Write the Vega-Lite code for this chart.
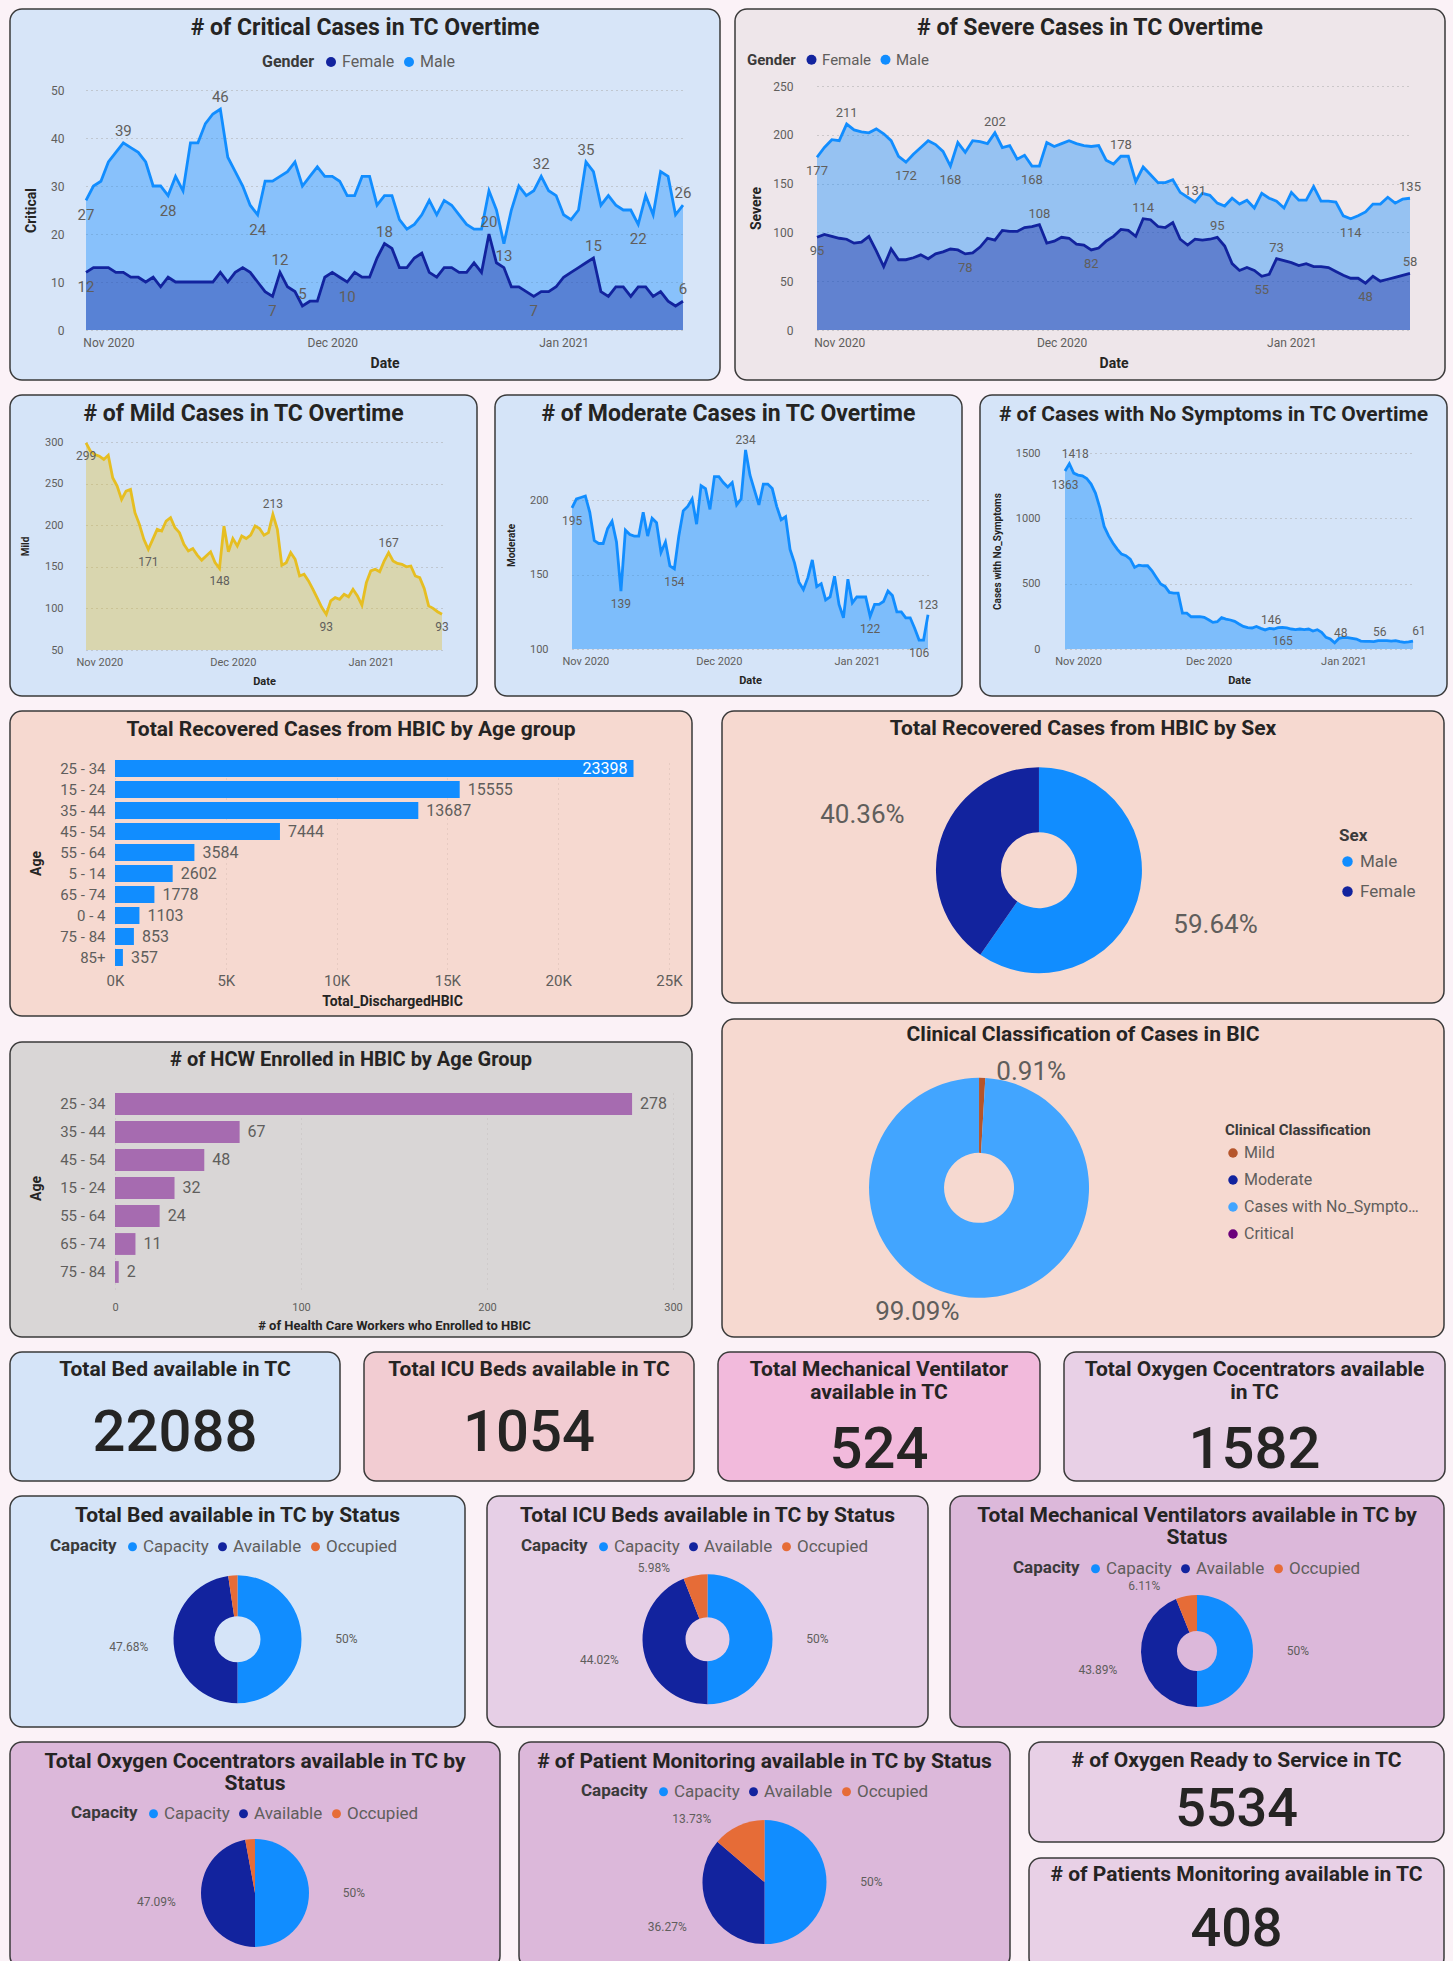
{
"$schema": "https://vega.github.io/schema/vega-lite/v6.json",
"background": "#FBF2F7",
"padding": {"left": 9, "top": 8, "right": 5, "bottom": 0},
"spacing": 13,
"resolve": {"scale": {"color": "independent", "theta": "independent"}, "legend": {"color": "independent"}},
"config": {
  "font": "Roboto",
  "view": {"stroke": null},
  "axis": {"domain": false, "ticks": false, "labelColor": "#605E5C", "titleColor": "#252423", "titleFontWeight": "bold", "gridColor": "#A9A9A9", "gridDash": [1, 4], "labelFlush": false, "labelOverlap": false},
  "legend": {"symbolType": "circle", "labelColor": "#605E5C", "titleColor": "#3A3A3A", "titleFontWeight": "bold", "symbolStrokeWidth": 0, "symbolOpacity": 1},
  "title": {"font": "Roboto", "fontWeight": "bold", "color": "#252423", "anchor": "middle", "frame": "group", "baseline": "top"}
},
"datasets": {
"critical": [
{"d":"2020-10-29","g":"Male","v":27,"lab":1},{"d":"2020-10-30","g":"Male","v":30},{"d":"2020-10-31","g":"Male","v":31},{"d":"2020-11-01","g":"Male","v":35},{"d":"2020-11-02","g":"Male","v":37},{"d":"2020-11-03","g":"Male","v":39,"lab":1},{"d":"2020-11-04","g":"Male","v":38},{"d":"2020-11-05","g":"Male","v":37},{"d":"2020-11-06","g":"Male","v":35},{"d":"2020-11-07","g":"Male","v":30},
{"d":"2020-11-08","g":"Male","v":30},{"d":"2020-11-09","g":"Male","v":28,"lab":1},{"d":"2020-11-10","g":"Male","v":32},{"d":"2020-11-11","g":"Male","v":29},{"d":"2020-11-12","g":"Male","v":39},{"d":"2020-11-13","g":"Male","v":39},{"d":"2020-11-14","g":"Male","v":43},{"d":"2020-11-15","g":"Male","v":45},{"d":"2020-11-16","g":"Male","v":46,"lab":1},{"d":"2020-11-17","g":"Male","v":36},
{"d":"2020-11-18","g":"Male","v":33},{"d":"2020-11-19","g":"Male","v":30},{"d":"2020-11-20","g":"Male","v":26},{"d":"2020-11-21","g":"Male","v":24,"lab":1},{"d":"2020-11-22","g":"Male","v":31},{"d":"2020-11-23","g":"Male","v":31},{"d":"2020-11-24","g":"Male","v":32},{"d":"2020-11-25","g":"Male","v":33},{"d":"2020-11-26","g":"Male","v":35},{"d":"2020-11-27","g":"Male","v":30},
{"d":"2020-11-28","g":"Male","v":32},{"d":"2020-11-29","g":"Male","v":34},{"d":"2020-11-30","g":"Male","v":32},{"d":"2020-12-01","g":"Male","v":32},{"d":"2020-12-02","g":"Male","v":31},{"d":"2020-12-03","g":"Male","v":28},{"d":"2020-12-04","g":"Male","v":28},{"d":"2020-12-05","g":"Male","v":32},{"d":"2020-12-06","g":"Male","v":32},{"d":"2020-12-07","g":"Male","v":26},
{"d":"2020-12-08","g":"Male","v":28},{"d":"2020-12-09","g":"Male","v":28},{"d":"2020-12-10","g":"Male","v":23},{"d":"2020-12-11","g":"Male","v":21},{"d":"2020-12-12","g":"Male","v":22},{"d":"2020-12-13","g":"Male","v":24},{"d":"2020-12-14","g":"Male","v":27},{"d":"2020-12-15","g":"Male","v":24},{"d":"2020-12-16","g":"Male","v":27},{"d":"2020-12-17","g":"Male","v":26},
{"d":"2020-12-18","g":"Male","v":24},{"d":"2020-12-19","g":"Male","v":22},{"d":"2020-12-20","g":"Male","v":21},{"d":"2020-12-21","g":"Male","v":21},{"d":"2020-12-22","g":"Male","v":29},{"d":"2020-12-23","g":"Male","v":25},{"d":"2020-12-24","g":"Male","v":18},{"d":"2020-12-25","g":"Male","v":25},{"d":"2020-12-26","g":"Male","v":30},{"d":"2020-12-27","g":"Male","v":28},
{"d":"2020-12-28","g":"Male","v":29},{"d":"2020-12-29","g":"Male","v":32,"lab":1},{"d":"2020-12-30","g":"Male","v":29},{"d":"2020-12-31","g":"Male","v":28},{"d":"2021-01-01","g":"Male","v":24},{"d":"2021-01-02","g":"Male","v":23},{"d":"2021-01-03","g":"Male","v":25},{"d":"2021-01-04","g":"Male","v":35,"lab":1},{"d":"2021-01-05","g":"Male","v":33},{"d":"2021-01-06","g":"Male","v":26},
{"d":"2021-01-07","g":"Male","v":28},{"d":"2021-01-08","g":"Male","v":26},{"d":"2021-01-09","g":"Male","v":25},{"d":"2021-01-10","g":"Male","v":25},{"d":"2021-01-11","g":"Male","v":22,"lab":1},{"d":"2021-01-12","g":"Male","v":28},{"d":"2021-01-13","g":"Male","v":24},{"d":"2021-01-14","g":"Male","v":33},{"d":"2021-01-15","g":"Male","v":32},{"d":"2021-01-16","g":"Male","v":24},
{"d":"2021-01-17","g":"Male","v":26,"lab":1},
{"d":"2020-10-29","g":"Female","v":12,"lab":1},{"d":"2020-10-30","g":"Female","v":13},{"d":"2020-10-31","g":"Female","v":13},{"d":"2020-11-01","g":"Female","v":13},{"d":"2020-11-02","g":"Female","v":12},{"d":"2020-11-03","g":"Female","v":12},{"d":"2020-11-04","g":"Female","v":11},{"d":"2020-11-05","g":"Female","v":11},{"d":"2020-11-06","g":"Female","v":10},{"d":"2020-11-07","g":"Female","v":11},
{"d":"2020-11-08","g":"Female","v":9},{"d":"2020-11-09","g":"Female","v":11},{"d":"2020-11-10","g":"Female","v":10},{"d":"2020-11-11","g":"Female","v":10},{"d":"2020-11-12","g":"Female","v":10},{"d":"2020-11-13","g":"Female","v":10},{"d":"2020-11-14","g":"Female","v":10},{"d":"2020-11-15","g":"Female","v":10},{"d":"2020-11-16","g":"Female","v":12},{"d":"2020-11-17","g":"Female","v":10},
{"d":"2020-11-18","g":"Female","v":12},{"d":"2020-11-19","g":"Female","v":13},{"d":"2020-11-20","g":"Female","v":12},{"d":"2020-11-21","g":"Female","v":10},{"d":"2020-11-22","g":"Female","v":8},{"d":"2020-11-23","g":"Female","v":7,"lab":1},{"d":"2020-11-24","g":"Female","v":12,"lab":1},{"d":"2020-11-25","g":"Female","v":9},{"d":"2020-11-26","g":"Female","v":8},{"d":"2020-11-27","g":"Female","v":5,"lab":1},
{"d":"2020-11-28","g":"Female","v":6},{"d":"2020-11-29","g":"Female","v":6},{"d":"2020-11-30","g":"Female","v":11},{"d":"2020-12-01","g":"Female","v":12},{"d":"2020-12-02","g":"Female","v":11},{"d":"2020-12-03","g":"Female","v":10,"lab":1},{"d":"2020-12-04","g":"Female","v":12},{"d":"2020-12-05","g":"Female","v":11},{"d":"2020-12-06","g":"Female","v":11},{"d":"2020-12-07","g":"Female","v":15},
{"d":"2020-12-08","g":"Female","v":18,"lab":1},{"d":"2020-12-09","g":"Female","v":17},{"d":"2020-12-10","g":"Female","v":13},{"d":"2020-12-11","g":"Female","v":13},{"d":"2020-12-12","g":"Female","v":15},{"d":"2020-12-13","g":"Female","v":16},{"d":"2020-12-14","g":"Female","v":12},{"d":"2020-12-15","g":"Female","v":11},{"d":"2020-12-16","g":"Female","v":13},{"d":"2020-12-17","g":"Female","v":13},
{"d":"2020-12-18","g":"Female","v":12},{"d":"2020-12-19","g":"Female","v":12},{"d":"2020-12-20","g":"Female","v":14},{"d":"2020-12-21","g":"Female","v":12},{"d":"2020-12-22","g":"Female","v":20,"lab":1},{"d":"2020-12-23","g":"Female","v":14},{"d":"2020-12-24","g":"Female","v":13,"lab":1},{"d":"2020-12-25","g":"Female","v":9},{"d":"2020-12-26","g":"Female","v":9},{"d":"2020-12-27","g":"Female","v":8},
{"d":"2020-12-28","g":"Female","v":7,"lab":1},{"d":"2020-12-29","g":"Female","v":8},{"d":"2020-12-30","g":"Female","v":8},{"d":"2020-12-31","g":"Female","v":9},{"d":"2021-01-01","g":"Female","v":11},{"d":"2021-01-02","g":"Female","v":12},{"d":"2021-01-03","g":"Female","v":13},{"d":"2021-01-04","g":"Female","v":14},{"d":"2021-01-05","g":"Female","v":15,"lab":1},{"d":"2021-01-06","g":"Female","v":8},
{"d":"2021-01-07","g":"Female","v":7},{"d":"2021-01-08","g":"Female","v":9},{"d":"2021-01-09","g":"Female","v":9},{"d":"2021-01-10","g":"Female","v":7},{"d":"2021-01-11","g":"Female","v":9},{"d":"2021-01-12","g":"Female","v":9},{"d":"2021-01-13","g":"Female","v":7},{"d":"2021-01-14","g":"Female","v":8},{"d":"2021-01-15","g":"Female","v":6},{"d":"2021-01-16","g":"Female","v":5},
{"d":"2021-01-17","g":"Female","v":6,"lab":1}
],
"severe": [
{"d":"2020-10-29","g":"Male","v":177,"lab":1},{"d":"2020-10-30","g":"Male","v":187},{"d":"2020-10-31","g":"Male","v":195},{"d":"2020-11-01","g":"Male","v":194},{"d":"2020-11-02","g":"Male","v":211,"lab":1},{"d":"2020-11-03","g":"Male","v":205},{"d":"2020-11-04","g":"Male","v":203},{"d":"2020-11-05","g":"Male","v":202},{"d":"2020-11-06","g":"Male","v":206},{"d":"2020-11-07","g":"Male","v":201},
{"d":"2020-11-08","g":"Male","v":194},{"d":"2020-11-09","g":"Male","v":178},{"d":"2020-11-10","g":"Male","v":172,"lab":1},{"d":"2020-11-11","g":"Male","v":180},{"d":"2020-11-12","g":"Male","v":187},{"d":"2020-11-13","g":"Male","v":194},{"d":"2020-11-14","g":"Male","v":190},{"d":"2020-11-15","g":"Male","v":183},{"d":"2020-11-16","g":"Male","v":168,"lab":1},{"d":"2020-11-17","g":"Male","v":192},
{"d":"2020-11-18","g":"Male","v":182},{"d":"2020-11-19","g":"Male","v":194},{"d":"2020-11-20","g":"Male","v":193},{"d":"2020-11-21","g":"Male","v":191},{"d":"2020-11-22","g":"Male","v":202,"lab":1},{"d":"2020-11-23","g":"Male","v":187},{"d":"2020-11-24","g":"Male","v":189},{"d":"2020-11-25","g":"Male","v":175},{"d":"2020-11-26","g":"Male","v":179},{"d":"2020-11-27","g":"Male","v":168,"lab":1},
{"d":"2020-11-28","g":"Male","v":168},{"d":"2020-11-29","g":"Male","v":192},{"d":"2020-11-30","g":"Male","v":188},{"d":"2020-12-01","g":"Male","v":191},{"d":"2020-12-02","g":"Male","v":194},{"d":"2020-12-03","g":"Male","v":191},{"d":"2020-12-04","g":"Male","v":189},{"d":"2020-12-05","g":"Male","v":188},{"d":"2020-12-06","g":"Male","v":189},{"d":"2020-12-07","g":"Male","v":174},
{"d":"2020-12-08","g":"Male","v":170},{"d":"2020-12-09","g":"Male","v":178,"lab":1},{"d":"2020-12-10","g":"Male","v":178},{"d":"2020-12-11","g":"Male","v":152},{"d":"2020-12-12","g":"Male","v":167},{"d":"2020-12-13","g":"Male","v":159},{"d":"2020-12-14","g":"Male","v":151},{"d":"2020-12-15","g":"Male","v":151},{"d":"2020-12-16","g":"Male","v":154},{"d":"2020-12-17","g":"Male","v":141},
{"d":"2020-12-18","g":"Male","v":136},{"d":"2020-12-19","g":"Male","v":131,"lab":1},{"d":"2020-12-20","g":"Male","v":140},{"d":"2020-12-21","g":"Male","v":138},{"d":"2020-12-22","g":"Male","v":130},{"d":"2020-12-23","g":"Male","v":127},{"d":"2020-12-24","g":"Male","v":135},{"d":"2020-12-25","g":"Male","v":129},{"d":"2020-12-26","g":"Male","v":133},{"d":"2020-12-27","g":"Male","v":125},
{"d":"2020-12-28","g":"Male","v":140},{"d":"2020-12-29","g":"Male","v":135},{"d":"2020-12-30","g":"Male","v":132},{"d":"2020-12-31","g":"Male","v":125},{"d":"2021-01-01","g":"Male","v":141},{"d":"2021-01-02","g":"Male","v":133},{"d":"2021-01-03","g":"Male","v":133},{"d":"2021-01-04","g":"Male","v":147},{"d":"2021-01-05","g":"Male","v":132},{"d":"2021-01-06","g":"Male","v":132},
{"d":"2021-01-07","g":"Male","v":131},{"d":"2021-01-08","g":"Male","v":117},{"d":"2021-01-09","g":"Male","v":114,"lab":1},{"d":"2021-01-10","g":"Male","v":117},{"d":"2021-01-11","g":"Male","v":121},{"d":"2021-01-12","g":"Male","v":129},{"d":"2021-01-13","g":"Male","v":129},{"d":"2021-01-14","g":"Male","v":136},{"d":"2021-01-15","g":"Male","v":130},{"d":"2021-01-16","g":"Male","v":134},
{"d":"2021-01-17","g":"Male","v":135,"lab":1},
{"d":"2020-10-29","g":"Female","v":95,"lab":1},{"d":"2020-10-30","g":"Female","v":98},{"d":"2020-10-31","g":"Female","v":96},{"d":"2020-11-01","g":"Female","v":94},{"d":"2020-11-02","g":"Female","v":93},{"d":"2020-11-03","g":"Female","v":89},{"d":"2020-11-04","g":"Female","v":90},{"d":"2020-11-05","g":"Female","v":96},{"d":"2020-11-06","g":"Female","v":81},{"d":"2020-11-07","g":"Female","v":65},
{"d":"2020-11-08","g":"Female","v":83},{"d":"2020-11-09","g":"Female","v":72},{"d":"2020-11-10","g":"Female","v":72},{"d":"2020-11-11","g":"Female","v":74},{"d":"2020-11-12","g":"Female","v":77},{"d":"2020-11-13","g":"Female","v":73},{"d":"2020-11-14","g":"Female","v":78},{"d":"2020-11-15","g":"Female","v":80},{"d":"2020-11-16","g":"Female","v":83},{"d":"2020-11-17","g":"Female","v":82},
{"d":"2020-11-18","g":"Female","v":78,"lab":1},{"d":"2020-11-19","g":"Female","v":79},{"d":"2020-11-20","g":"Female","v":85},{"d":"2020-11-21","g":"Female","v":94},{"d":"2020-11-22","g":"Female","v":92},{"d":"2020-11-23","g":"Female","v":102},{"d":"2020-11-24","g":"Female","v":101},{"d":"2020-11-25","g":"Female","v":101},{"d":"2020-11-26","g":"Female","v":105},{"d":"2020-11-27","g":"Female","v":106},
{"d":"2020-11-28","g":"Female","v":108,"lab":1},{"d":"2020-11-29","g":"Female","v":89},{"d":"2020-11-30","g":"Female","v":91},{"d":"2020-12-01","g":"Female","v":95},{"d":"2020-12-02","g":"Female","v":94},{"d":"2020-12-03","g":"Female","v":88},{"d":"2020-12-04","g":"Female","v":87},{"d":"2020-12-05","g":"Female","v":82,"lab":1},{"d":"2020-12-06","g":"Female","v":84},{"d":"2020-12-07","g":"Female","v":91},
{"d":"2020-12-08","g":"Female","v":96},{"d":"2020-12-09","g":"Female","v":103},{"d":"2020-12-10","g":"Female","v":102},{"d":"2020-12-11","g":"Female","v":96},{"d":"2020-12-12","g":"Female","v":114,"lab":1},{"d":"2020-12-13","g":"Female","v":113},{"d":"2020-12-14","g":"Female","v":106},{"d":"2020-12-15","g":"Female","v":105},{"d":"2020-12-16","g":"Female","v":110},{"d":"2020-12-17","g":"Female","v":93},
{"d":"2020-12-18","g":"Female","v":87},{"d":"2020-12-19","g":"Female","v":93},{"d":"2020-12-20","g":"Female","v":92},{"d":"2020-12-21","g":"Female","v":93},{"d":"2020-12-22","g":"Female","v":95,"lab":1},{"d":"2020-12-23","g":"Female","v":86},{"d":"2020-12-24","g":"Female","v":68},{"d":"2020-12-25","g":"Female","v":61},{"d":"2020-12-26","g":"Female","v":64},{"d":"2020-12-27","g":"Female","v":61},
{"d":"2020-12-28","g":"Female","v":55,"lab":1},{"d":"2020-12-29","g":"Female","v":57},{"d":"2020-12-30","g":"Female","v":73,"lab":1},{"d":"2020-12-31","g":"Female","v":71},{"d":"2021-01-01","g":"Female","v":69},{"d":"2021-01-02","g":"Female","v":66},{"d":"2021-01-03","g":"Female","v":68},{"d":"2021-01-04","g":"Female","v":65},{"d":"2021-01-05","g":"Female","v":65},{"d":"2021-01-06","g":"Female","v":64},
{"d":"2021-01-07","g":"Female","v":60},{"d":"2021-01-08","g":"Female","v":56},{"d":"2021-01-09","g":"Female","v":53},{"d":"2021-01-10","g":"Female","v":53},{"d":"2021-01-11","g":"Female","v":48,"lab":1},{"d":"2021-01-12","g":"Female","v":55},{"d":"2021-01-13","g":"Female","v":50},{"d":"2021-01-14","g":"Female","v":52},{"d":"2021-01-15","g":"Female","v":54},{"d":"2021-01-16","g":"Female","v":56},
{"d":"2021-01-17","g":"Female","v":58,"lab":1}
],
"mild": [
{"d":"2020-10-29","v":299,"lab":1},{"d":"2020-10-30","v":289},{"d":"2020-10-31","v":285},{"d":"2020-11-01","v":283},{"d":"2020-11-02","v":279},{"d":"2020-11-03","v":284},{"d":"2020-11-04","v":257},{"d":"2020-11-05","v":247},{"d":"2020-11-06","v":231},{"d":"2020-11-07","v":241},
{"d":"2020-11-08","v":243},{"d":"2020-11-09","v":215},{"d":"2020-11-10","v":201},{"d":"2020-11-11","v":183},{"d":"2020-11-12","v":171,"lab":1},{"d":"2020-11-13","v":183},{"d":"2020-11-14","v":195},{"d":"2020-11-15","v":193},{"d":"2020-11-16","v":205},{"d":"2020-11-17","v":209},
{"d":"2020-11-18","v":197},{"d":"2020-11-19","v":191},{"d":"2020-11-20","v":177},{"d":"2020-11-21","v":169},{"d":"2020-11-22","v":172},{"d":"2020-11-23","v":164},{"d":"2020-11-24","v":158},{"d":"2020-11-25","v":163},{"d":"2020-11-26","v":168},{"d":"2020-11-27","v":155},
{"d":"2020-11-28","v":148,"lab":1},{"d":"2020-11-29","v":199},{"d":"2020-11-30","v":168},{"d":"2020-12-01","v":184},{"d":"2020-12-02","v":175},{"d":"2020-12-03","v":187},{"d":"2020-12-04","v":184},{"d":"2020-12-05","v":188},{"d":"2020-12-06","v":199},{"d":"2020-12-07","v":196},
{"d":"2020-12-08","v":188},{"d":"2020-12-09","v":191},{"d":"2020-12-10","v":213,"lab":1},{"d":"2020-12-11","v":195},{"d":"2020-12-12","v":152},{"d":"2020-12-13","v":155},{"d":"2020-12-14","v":167},{"d":"2020-12-15","v":159},{"d":"2020-12-16","v":139},{"d":"2020-12-17","v":141},
{"d":"2020-12-18","v":133},{"d":"2020-12-19","v":123},{"d":"2020-12-20","v":112},{"d":"2020-12-21","v":101},{"d":"2020-12-22","v":93,"lab":1},{"d":"2020-12-23","v":109},{"d":"2020-12-24","v":113},{"d":"2020-12-25","v":111},{"d":"2020-12-26","v":117},{"d":"2020-12-27","v":114},
{"d":"2020-12-28","v":123},{"d":"2020-12-29","v":115},{"d":"2020-12-30","v":104},{"d":"2020-12-31","v":131},{"d":"2021-01-01","v":145},{"d":"2021-01-02","v":147},{"d":"2021-01-03","v":144},{"d":"2021-01-04","v":157},{"d":"2021-01-05","v":167,"lab":1},{"d":"2021-01-06","v":157},
{"d":"2021-01-07","v":154},{"d":"2021-01-08","v":153},{"d":"2021-01-09","v":150},{"d":"2021-01-10","v":151},{"d":"2021-01-11","v":139},{"d":"2021-01-12","v":137},{"d":"2021-01-13","v":124},{"d":"2021-01-14","v":103},{"d":"2021-01-15","v":100},{"d":"2021-01-16","v":96},
{"d":"2021-01-17","v":93,"lab":1}
],
"moderate": [
{"d":"2020-10-29","v":195,"lab":1},{"d":"2020-10-30","v":201},{"d":"2020-10-31","v":202},{"d":"2020-11-01","v":203},{"d":"2020-11-02","v":192},{"d":"2020-11-03","v":173},{"d":"2020-11-04","v":171},{"d":"2020-11-05","v":171},{"d":"2020-11-06","v":181},{"d":"2020-11-07","v":186},
{"d":"2020-11-08","v":172},{"d":"2020-11-09","v":139,"lab":1},{"d":"2020-11-10","v":180},{"d":"2020-11-11","v":177},{"d":"2020-11-12","v":176},{"d":"2020-11-13","v":176},{"d":"2020-11-14","v":192},{"d":"2020-11-15","v":176},{"d":"2020-11-16","v":188},{"d":"2020-11-17","v":185},
{"d":"2020-11-18","v":165},{"d":"2020-11-19","v":172},{"d":"2020-11-20","v":156},{"d":"2020-11-21","v":154,"lab":1},{"d":"2020-11-22","v":176},{"d":"2020-11-23","v":193},{"d":"2020-11-24","v":196},{"d":"2020-11-25","v":201},{"d":"2020-11-26","v":184},{"d":"2020-11-27","v":210},
{"d":"2020-11-28","v":208},{"d":"2020-11-29","v":194},{"d":"2020-11-30","v":216},{"d":"2020-12-01","v":216},{"d":"2020-12-02","v":212},{"d":"2020-12-03","v":209},{"d":"2020-12-04","v":212},{"d":"2020-12-05","v":197},{"d":"2020-12-06","v":201},{"d":"2020-12-07","v":234,"lab":1},
{"d":"2020-12-08","v":217},{"d":"2020-12-09","v":207},{"d":"2020-12-10","v":197},{"d":"2020-12-11","v":211},{"d":"2020-12-12","v":211},{"d":"2020-12-13","v":208},{"d":"2020-12-14","v":196},{"d":"2020-12-15","v":187},{"d":"2020-12-16","v":189},{"d":"2020-12-17","v":167},
{"d":"2020-12-18","v":158},{"d":"2020-12-19","v":145},{"d":"2020-12-20","v":140},{"d":"2020-12-21","v":148},{"d":"2020-12-22","v":160},{"d":"2020-12-23","v":142},{"d":"2020-12-24","v":144},{"d":"2020-12-25","v":133},{"d":"2020-12-26","v":135},{"d":"2020-12-27","v":149},
{"d":"2020-12-28","v":130},{"d":"2020-12-29","v":121},{"d":"2020-12-30","v":147},{"d":"2020-12-31","v":131},{"d":"2021-01-01","v":135},{"d":"2021-01-02","v":135},{"d":"2021-01-03","v":135},{"d":"2021-01-04","v":122,"lab":1},{"d":"2021-01-05","v":130},{"d":"2021-01-06","v":130},
{"d":"2021-01-07","v":132},{"d":"2021-01-08","v":139},{"d":"2021-01-09","v":136},{"d":"2021-01-10","v":125},{"d":"2021-01-11","v":125},{"d":"2021-01-12","v":121},{"d":"2021-01-13","v":121},{"d":"2021-01-14","v":114},{"d":"2021-01-15","v":106,"lab":1},{"d":"2021-01-16","v":106},
{"d":"2021-01-17","v":123,"lab":1}
],
"nosym": [
{"d":"2020-10-29","v":1363,"lab":1},{"d":"2020-10-30","v":1418,"lab":1},{"d":"2020-10-31","v":1346},{"d":"2020-11-01","v":1331},{"d":"2020-11-02","v":1325},{"d":"2020-11-03","v":1305},{"d":"2020-11-04","v":1262},{"d":"2020-11-05","v":1193},{"d":"2020-11-06","v":1083},{"d":"2020-11-07","v":938},
{"d":"2020-11-08","v":867},{"d":"2020-11-09","v":811},{"d":"2020-11-10","v":765},{"d":"2020-11-11","v":726},{"d":"2020-11-12","v":714},{"d":"2020-11-13","v":688},{"d":"2020-11-14","v":624},{"d":"2020-11-15","v":642},{"d":"2020-11-16","v":637},{"d":"2020-11-17","v":637},
{"d":"2020-11-18","v":599},{"d":"2020-11-19","v":548},{"d":"2020-11-20","v":497},{"d":"2020-11-21","v":479},{"d":"2020-11-22","v":433},{"d":"2020-11-23","v":428},{"d":"2020-11-24","v":428},{"d":"2020-11-25","v":275},{"d":"2020-11-26","v":275},{"d":"2020-11-27","v":247},
{"d":"2020-11-28","v":247},{"d":"2020-11-29","v":247},{"d":"2020-11-30","v":242},{"d":"2020-12-01","v":224},{"d":"2020-12-02","v":204},{"d":"2020-12-03","v":209},{"d":"2020-12-04","v":240},{"d":"2020-12-05","v":229},{"d":"2020-12-06","v":222},{"d":"2020-12-07","v":212},
{"d":"2020-12-08","v":191},{"d":"2020-12-09","v":173},{"d":"2020-12-10","v":163},{"d":"2020-12-11","v":161},{"d":"2020-12-12","v":173},{"d":"2020-12-13","v":158},{"d":"2020-12-14","v":146,"lab":1},{"d":"2020-12-15","v":158},{"d":"2020-12-16","v":153},{"d":"2020-12-17","v":163},
{"d":"2020-12-18","v":165,"lab":1},{"d":"2020-12-19","v":161},{"d":"2020-12-20","v":153},{"d":"2020-12-21","v":148},{"d":"2020-12-22","v":153},{"d":"2020-12-23","v":148},{"d":"2020-12-24","v":153},{"d":"2020-12-25","v":138},{"d":"2020-12-26","v":148},{"d":"2020-12-27","v":127},
{"d":"2020-12-28","v":89},{"d":"2020-12-29","v":76},{"d":"2020-12-30","v":48,"lab":1},{"d":"2020-12-31","v":82},{"d":"2021-01-01","v":89},{"d":"2021-01-02","v":87},{"d":"2021-01-03","v":82},{"d":"2021-01-04","v":76},{"d":"2021-01-05","v":61},{"d":"2021-01-06","v":59},
{"d":"2021-01-07","v":59},{"d":"2021-01-08","v":56,"lab":1},{"d":"2021-01-09","v":64},{"d":"2021-01-10","v":64},{"d":"2021-01-11","v":64},{"d":"2021-01-12","v":61},{"d":"2021-01-13","v":64},{"d":"2021-01-14","v":57},{"d":"2021-01-15","v":51},{"d":"2021-01-16","v":54},
{"d":"2021-01-17","v":61,"lab":1}
],
"age": [
{"a":"25 - 34","v":23398},{"a":"15 - 24","v":15555},{"a":"35 - 44","v":13687},{"a":"45 - 54","v":7444},{"a":"55 - 64","v":3584},
{"a":"5 - 14","v":2602},{"a":"65 - 74","v":1778},{"a":"0 - 4","v":1103},{"a":"75 - 84","v":853},{"a":"85+","v":357}
],
"hcw": [
{"a":"25 - 34","v":278},{"a":"35 - 44","v":67},{"a":"45 - 54","v":48},{"a":"15 - 24","v":32},{"a":"55 - 64","v":24},{"a":"65 - 74","v":11},{"a":"75 - 84","v":2}
],
"sex": [{"s":"Male","v":0.5964,"k":1},{"s":"Female","v":0.4036,"k":2}],
"clinical": [{"s":"Mild","v":0.0091,"k":1},{"s":"Moderate","v":0,"k":2},{"s":"Cases with No_Symptoms","v":0.9909,"k":3},{"s":"Critical","v":0,"k":4}],
"bed": [{"s":"Capacity","v":0.5,"k":1},{"s":"Available","v":0.4768,"k":2},{"s":"Occupied","v":0.0232,"k":3}],
"icu": [{"s":"Capacity","v":0.5,"k":1},{"s":"Available","v":0.4402,"k":2},{"s":"Occupied","v":0.0598,"k":3}],
"mech": [{"s":"Capacity","v":0.5,"k":1},{"s":"Available","v":0.4389,"k":2},{"s":"Occupied","v":0.0611,"k":3}],
"oxy": [{"s":"Capacity","v":0.5,"k":1},{"s":"Available","v":0.4709,"k":2},{"s":"Occupied","v":0.0291,"k":3}],
"pm": [{"s":"Capacity","v":0.5,"k":1},{"s":"Available","v":0.3627,"k":2},{"s":"Occupied","v":0.1373,"k":3}]
},
"vconcat": [
{"hconcat": [
  {"width": 710, "height": 371,
   "view": {"fill": "#D7E5F8", "stroke": "#3A3A3A", "strokeWidth": 1.5, "cornerRadius": 12},
   "title": {"text": "# of Critical Cases in TC Overtime", "fontSize": 23, "offset": -31},
   "data": {"name": "critical"},
   "encoding": {
     "x": {"field": "d", "type": "temporal", "scale": {"type": "utc", "nice": false, "range": [76, 673]},
           "axis": {"orient": "bottom", "offset": -50, "format": "%b %Y", "tickCount": {"interval": "month", "step": 1}, "labelFontSize": 12, "labelPadding": 7, "title": "Date", "titleFontSize": 14, "titlePadding": 8, "grid": false}},
     "y": {"field": "v", "type": "quantitative", "stack": null, "scale": {"domain": [0, 50], "nice": false, "range": [321, 81]},
           "axis": {"orient": "left", "offset": -60, "values": [0, 10, 20, 30, 40, 50], "labelFontSize": 12, "labelPadding": 6, "title": "Critical", "titleFontSize": 14, "titlePadding": 12, "grid": true}},
     "color": {"field": "g", "type": "nominal", "scale": {"domain": ["Female", "Male"], "range": ["#12239E", "#118DFF"]},
               "legend": {"title": "Gender", "orient": "none", "direction": "horizontal", "titleOrient": "left", "legendX": 252, "legendY": 45, "titleFontSize": 16, "labelFontSize": 16, "symbolSize": 100, "columnPadding": 6, "titlePadding": 8, "labelOffset": 3}}
   },
   "layer": [
     {"transform": [{"filter": "datum.g == 'Male'"}], "mark": {"type": "area", "opacity": 0.4}, "encoding": {"y2": {"datum": 0}}},
     {"transform": [{"filter": "datum.g == 'Female'"}], "mark": {"type": "area", "opacity": 0.4}, "encoding": {"y2": {"datum": 0}}},
     {"mark": {"type": "line", "strokeWidth": 2.8}},
     {"transform": [{"filter": "datum.lab == 1 && !((datum.g == 'Male' && indexof([27, 28, 24, 22], datum.v) >= 0) || (datum.g == 'Female' && (datum.v == 7 || datum.v == 10 || (datum.v == 12 && utcmonth(datum.d) == 9))))"}],
      "mark": {"type": "text", "dy": -12, "fontSize": 15}, "encoding": {"text": {"field": "v", "type": "quantitative", "format": "d"}, "color": {"value": "#605E5C"}}},
     {"transform": [{"filter": "datum.lab == 1 && ((datum.g == 'Male' && indexof([27, 28, 24, 22], datum.v) >= 0) || (datum.g == 'Female' && (datum.v == 7 || datum.v == 10 || (datum.v == 12 && utcmonth(datum.d) == 9))))"}],
      "mark": {"type": "text", "dy": 15, "fontSize": 15}, "encoding": {"text": {"field": "v", "type": "quantitative", "format": "d"}, "color": {"value": "#605E5C"}}}
   ]
  },
  {"width": 710, "height": 371,
   "view": {"fill": "#EEE6EA", "stroke": "#3A3A3A", "strokeWidth": 1.5, "cornerRadius": 12},
   "title": {"text": "# of Severe Cases in TC Overtime", "fontSize": 23, "offset": -31},
   "data": {"name": "severe"},
   "encoding": {
     "x": {"field": "d", "type": "temporal", "scale": {"type": "utc", "nice": false, "range": [82, 675]},
           "axis": {"orient": "bottom", "offset": -50, "format": "%b %Y", "tickCount": {"interval": "month", "step": 1}, "labelFontSize": 12, "labelPadding": 7, "title": "Date", "titleFontSize": 14, "titlePadding": 8, "grid": false}},
     "y": {"field": "v", "type": "quantitative", "stack": null, "scale": {"domain": [0, 250], "nice": false, "range": [321, 77]},
           "axis": {"orient": "left", "offset": -64, "values": [0, 50, 100, 150, 200, 250], "labelFontSize": 12, "labelPadding": 6, "title": "Severe", "titleFontSize": 14, "titlePadding": 9, "grid": true}},
     "color": {"field": "g", "type": "nominal", "scale": {"domain": ["Female", "Male"], "range": ["#12239E", "#118DFF"]},
               "legend": {"title": "Gender", "orient": "none", "direction": "horizontal", "titleOrient": "left", "legendX": 12, "legendY": 43, "titleFontSize": 15, "labelFontSize": 15, "symbolSize": 100, "columnPadding": 6, "titlePadding": 8, "labelOffset": 3}}
   },
   "layer": [
     {"transform": [{"filter": "datum.g == 'Male'"}], "mark": {"type": "area", "opacity": 0.4}, "encoding": {"y2": {"datum": 0}}},
     {"transform": [{"filter": "datum.g == 'Female'"}], "mark": {"type": "area", "opacity": 0.4}, "encoding": {"y2": {"datum": 0}}},
     {"mark": {"type": "line", "strokeWidth": 2.8}},
     {"transform": [{"filter": "datum.lab == 1 && !((datum.g == 'Male' && indexof([177, 172, 168, 114], datum.v) >= 0) || (datum.g == 'Female' && (indexof([78, 82, 55, 48], datum.v) >= 0 || (datum.v == 95 && utcmonth(datum.d) == 9))))"}],
      "mark": {"type": "text", "dy": -11, "fontSize": 13}, "encoding": {"text": {"field": "v", "type": "quantitative", "format": "d"}, "color": {"value": "#605E5C"}}},
     {"transform": [{"filter": "datum.lab == 1 && ((datum.g == 'Male' && indexof([177, 172, 168, 114], datum.v) >= 0) || (datum.g == 'Female' && (indexof([78, 82, 55, 48], datum.v) >= 0 || (datum.v == 95 && utcmonth(datum.d) == 9))))"}],
      "mark": {"type": "text", "dy": 14, "fontSize": 13}, "encoding": {"text": {"field": "v", "type": "quantitative", "format": "d"}, "color": {"value": "#605E5C"}}}
   ]
  }
 ], "spacing": 13, "resolve": {"scale": {"color": "independent"}, "legend": {"color": "independent"}}},
{"hconcat": [
  {"width": 467, "height": 301,
   "view": {"fill": "#D5E4F8", "stroke": "#3A3A3A", "strokeWidth": 1.5, "cornerRadius": 12},
   "title": {"text": "# of Mild Cases in TC Overtime", "fontSize": 23, "offset": -31},
   "data": {"name": "mild"},
   "encoding": {
     "x": {"field": "d", "type": "temporal", "scale": {"type": "utc", "nice": false, "range": [76, 432]},
           "axis": {"orient": "bottom", "offset": -46, "format": "%b %Y", "tickCount": {"interval": "month", "step": 1}, "labelFontSize": 11, "labelPadding": 6, "title": "Date", "titleFontSize": 11, "titlePadding": 8, "grid": false}},
     "y": {"field": "v", "type": "quantitative", "stack": null, "scale": {"domain": [50, 300], "nice": false, "zero": false, "range": [255, 47]},
           "axis": {"orient": "left", "offset": -58, "values": [50, 100, 150, 200, 250, 300], "format": "d", "labelFontSize": 11, "labelPadding": 5, "title": "Mild", "titleFontSize": 10, "titlePadding": 14, "grid": true}}
   },
   "layer": [
     {"mark": {"type": "area", "color": "#E3BE27", "opacity": 0.35}, "encoding": {"y2": {"datum": 50}}},
     {"mark": {"type": "line", "color": "#E6BE22", "strokeWidth": 2.8}},
     {"transform": [{"filter": "datum.lab == 1 && indexof([299, 171, 148, 93], datum.v) < 0"}], "mark": {"type": "text", "dy": -10, "fontSize": 12, "color": "#605E5C"}, "encoding": {"text": {"field": "v", "type": "quantitative", "format": "d"}}},
     {"transform": [{"filter": "datum.lab == 1 && indexof([299, 171, 148, 93], datum.v) >= 0"}], "mark": {"type": "text", "dy": 13, "fontSize": 12, "color": "#605E5C"}, "encoding": {"text": {"field": "v", "type": "quantitative", "format": "d"}}}
   ]
  },
  {"width": 467, "height": 301,
   "view": {"fill": "#D5E4F8", "stroke": "#3A3A3A", "strokeWidth": 1.5, "cornerRadius": 12},
   "title": {"text": "# of Moderate Cases in TC Overtime", "fontSize": 23, "offset": -31},
   "data": {"name": "moderate"},
   "encoding": {
     "x": {"field": "d", "type": "temporal", "scale": {"type": "utc", "nice": false, "range": [77, 433]},
           "axis": {"orient": "bottom", "offset": -47, "format": "%b %Y", "tickCount": {"interval": "month", "step": 1}, "labelFontSize": 11, "labelPadding": 6, "title": "Date", "titleFontSize": 11, "titlePadding": 8, "grid": false}},
     "y": {"field": "v", "type": "quantitative", "stack": null, "scale": {"domain": [100, 240], "nice": false, "zero": false, "range": [254, 46]},
           "axis": {"orient": "left", "offset": -58, "values": [100, 150, 200], "format": "d", "labelFontSize": 11, "labelPadding": 5, "title": "Moderate", "titleFontSize": 10, "titlePadding": 13, "grid": true}}
   },
   "layer": [
     {"mark": {"type": "area", "color": "#118DFF", "opacity": 0.45}, "encoding": {"y2": {"datum": 100}}},
     {"mark": {"type": "line", "color": "#118DFF", "strokeWidth": 2.8}},
     {"transform": [{"filter": "datum.lab == 1 && indexof([195, 139, 154, 122, 106], datum.v) < 0"}], "mark": {"type": "text", "dy": -10, "fontSize": 12, "color": "#605E5C"}, "encoding": {"text": {"field": "v", "type": "quantitative", "format": "d"}}},
     {"transform": [{"filter": "datum.lab == 1 && indexof([195, 139, 154, 122, 106], datum.v) >= 0"}], "mark": {"type": "text", "dy": 13, "fontSize": 12, "color": "#605E5C"}, "encoding": {"text": {"field": "v", "type": "quantitative", "format": "d"}}}
   ]
  },
  {"width": 467, "height": 301,
   "view": {"fill": "#D5E4F8", "stroke": "#3A3A3A", "strokeWidth": 1.5, "cornerRadius": 12},
   "title": {"text": "# of Cases with No Symptoms in TC Overtime", "fontSize": 21, "offset": -30},
   "data": {"name": "nosym"},
   "encoding": {
     "x": {"field": "d", "type": "temporal", "scale": {"type": "utc", "nice": false, "range": [85, 433]},
           "axis": {"orient": "bottom", "offset": -47, "format": "%b %Y", "tickCount": {"interval": "month", "step": 1}, "labelFontSize": 11, "labelPadding": 6, "title": "Date", "titleFontSize": 11, "titlePadding": 8, "grid": false}},
     "y": {"field": "v", "type": "quantitative", "stack": null, "scale": {"domain": [0, 1500], "nice": false, "range": [254, 58]},
           "axis": {"orient": "left", "offset": -65, "values": [0, 500, 1000, 1500], "format": "d", "labelFontSize": 11, "labelPadding": 5, "title": "Cases with No_Symptoms", "titleFontSize": 10, "titlePadding": 13, "grid": true}}
   },
   "layer": [
     {"mark": {"type": "area", "color": "#118DFF", "opacity": 0.45}, "encoding": {"y2": {"datum": 0}}},
     {"mark": {"type": "line", "color": "#118DFF", "strokeWidth": 2.8}},
     {"transform": [{"filter": "datum.lab == 1 && indexof([1363, 165], datum.v) < 0"}], "mark": {"type": "text", "dy": -10, "dx": 6, "fontSize": 12, "color": "#605E5C"}, "encoding": {"text": {"field": "v", "type": "quantitative", "format": "d"}}},
     {"transform": [{"filter": "datum.lab == 1 && indexof([1363, 165], datum.v) >= 0"}], "mark": {"type": "text", "dy": 14, "fontSize": 12, "color": "#605E5C"}, "encoding": {"text": {"field": "v", "type": "quantitative", "format": "d"}}}
   ]
  }
 ], "spacing": 16},
{"hconcat": [
  {"vconcat": [
    {"width": 682, "height": 305,
     "view": {"fill": "#F6D9D0", "stroke": "#3A3A3A", "strokeWidth": 1.5, "cornerRadius": 12},
     "title": {"text": "Total Recovered Cases from HBIC by Age group", "fontSize": 21, "offset": -29},
     "data": {"name": "age"},
     "encoding": {
       "y": {"field": "a", "type": "nominal", "sort": ["25 - 34", "15 - 24", "35 - 44", "45 - 54", "55 - 64", "5 - 14", "65 - 74", "0 - 4", "75 - 84", "85+"],
             "scale": {"range": [47, 257], "paddingInner": 0.19, "paddingOuter": 0.095},
             "axis": {"orient": "left", "offset": -100, "labelFontSize": 15, "labelPadding": 5, "title": "Age", "titleFontSize": 14, "titlePadding": 16}},
       "x": {"field": "v", "type": "quantitative", "scale": {"domain": [0, 25000], "nice": false, "range": [105, 659]},
             "axis": {"orient": "bottom", "offset": -47, "values": [0, 5000, 10000, 15000, 20000, 25000], "labelExpr": "datum.value / 1000 + 'K'", "labelFontSize": 15, "labelPadding": 4, "title": "Total_DischargedHBIC", "titleFontSize": 14, "titlePadding": 6, "grid": true, "gridColor": "#D9BDB5"}}
     },
     "layer": [
       {"mark": {"type": "bar", "color": "#118DFF"}},
       {"transform": [{"filter": "datum.v < 20000"}], "mark": {"type": "text", "align": "left", "dx": 8, "fontSize": 16, "color": "#605E5C"}, "encoding": {"text": {"field": "v", "type": "quantitative", "format": "d"}}},
       {"transform": [{"filter": "datum.v >= 20000"}], "mark": {"type": "text", "align": "right", "dx": -6, "fontSize": 16, "color": "#FFFFFF"}, "encoding": {"text": {"field": "v", "type": "quantitative", "format": "d"}}}
     ]
    },
    {"width": 682, "height": 295,
     "view": {"fill": "#D9D6D6", "stroke": "#3A3A3A", "strokeWidth": 1.5, "cornerRadius": 12},
     "title": {"text": "# of HCW Enrolled in HBIC by Age Group", "fontSize": 20, "offset": -28},
     "data": {"name": "hcw"},
     "encoding": {
       "y": {"field": "a", "type": "nominal", "sort": ["25 - 34", "35 - 44", "45 - 54", "15 - 24", "55 - 64", "65 - 74", "75 - 84"],
             "scale": {"range": [48, 244], "paddingInner": 0.22, "paddingOuter": 0.11},
             "axis": {"orient": "left", "offset": -100, "labelFontSize": 15, "labelPadding": 5, "title": "Age", "titleFontSize": 14, "titlePadding": 16}},
       "x": {"field": "v", "type": "quantitative", "scale": {"domain": [0, 300], "nice": false, "range": [105, 663]},
             "axis": {"orient": "bottom", "offset": -49, "values": [0, 100, 200, 300], "labelFontSize": 11, "labelPadding": 13, "title": "# of Health Care Workers who Enrolled to HBIC", "titleFontSize": 13, "titlePadding": 7, "grid": true, "gridColor": "#C4C0C0"}}
     },
     "layer": [
       {"mark": {"type": "bar", "color": "#A66BB0"}},
       {"mark": {"type": "text", "align": "left", "dx": 8, "fontSize": 16, "color": "#605E5C"}, "encoding": {"text": {"field": "v", "type": "quantitative", "format": "d"}}}
     ]
    }
  ], "spacing": 24},
  {"vconcat": [
    {"width": 722, "height": 292,
     "view": {"fill": "#F6D9D0", "stroke": "#3A3A3A", "strokeWidth": 1.5, "cornerRadius": 12},
     "title": {"text": "Total Recovered Cases from HBIC by Sex", "fontSize": 21, "offset": -28},
     "data": {"name": "sex"},
     "encoding": {
       "theta": {"field": "v", "type": "quantitative", "stack": true},
       "order": {"field": "k", "type": "quantitative"},
       "x": {"datum": "c", "type": "nominal", "scale": {"type": "point", "align": 0.439}, "axis": null},
       "y": {"datum": "c", "type": "nominal", "scale": {"type": "point", "align": 0.545}, "axis": null},
       "color": {"field": "s", "type": "nominal", "scale": {"domain": ["Male", "Female"], "range": ["#118DFF", "#12239E"]},
                 "legend": {"title": "Sex", "orient": "none", "legendX": 617, "legendY": 117, "titleFontSize": 17, "labelFontSize": 17, "symbolSize": 110, "rowPadding": 12, "titlePadding": 8, "labelOffset": 4}}
     },
     "layer": [
       {"mark": {"type": "arc", "outerRadius": 103, "innerRadius": 38}},
       {"mark": {"type": "text", "radius": 185, "fontSize": 26}, "encoding": {"text": {"field": "v", "type": "quantitative", "format": ".2~%"}, "color": {"value": "#605E5C"}, "detail": {"field": "s"}}}
     ]
    },
    {"width": 722, "height": 318,
     "view": {"fill": "#F6D9D0", "stroke": "#3A3A3A", "strokeWidth": 1.5, "cornerRadius": 12},
     "title": {"text": "Clinical Classification of Cases in BIC", "fontSize": 21, "offset": -26},
     "data": {"name": "clinical"},
     "encoding": {
       "theta": {"field": "v", "type": "quantitative", "stack": true},
       "order": {"field": "k", "type": "quantitative"},
       "x": {"datum": "c", "type": "nominal", "scale": {"type": "point", "align": 0.356}, "axis": null},
       "y": {"datum": "c", "type": "nominal", "scale": {"type": "point", "align": 0.531}, "axis": null},
       "color": {"field": "s", "type": "nominal", "scale": {"domain": ["Mild", "Moderate", "Cases with No_Symptoms", "Critical"], "range": ["#B5552B", "#12239E", "#42A5FF", "#6B007B"]},
                 "legend": {"title": "Clinical Classification", "orient": "none", "legendX": 503, "legendY": 104, "titleFontSize": 15, "labelFontSize": 16, "symbolSize": 90, "rowPadding": 11, "titlePadding": 7, "labelOffset": 3, "labelLimit": 178}}
     },
     "layer": [
       {"mark": {"type": "arc", "outerRadius": 110, "innerRadius": 35}},
       {"mark": {"type": "text", "radius": 116, "fontSize": 26, "align": "left", "dx": 14}, "encoding": {"text": {"condition": {"test": "datum.s == 'Mild'", "field": "v", "type": "quantitative", "format": ".2~%"}, "value": ""}, "color": {"value": "#605E5C"}, "detail": {"field": "s"}}},
       {"mark": {"type": "text", "radius": 124, "fontSize": 26, "align": "right", "dx": -16}, "encoding": {"text": {"condition": {"test": "datum.s == 'Cases with No_Symptoms'", "field": "v", "type": "quantitative", "format": ".2~%"}, "value": ""}, "color": {"value": "#605E5C"}, "detail": {"field": "s"}}}
     ]
    }
  ], "spacing": 14, "resolve": {"scale": {"color": "independent", "theta": "independent"}, "legend": {"color": "independent"}}}
 ], "spacing": 28, "resolve": {"scale": {"color": "independent", "theta": "independent"}, "legend": {"color": "independent"}}},
{"hconcat": [
  {"width": 330, "height": 129, "view": {"fill": "#D5E4F8", "stroke": "#3A3A3A", "strokeWidth": 1.5, "cornerRadius": 12},
   "title": {"text": "Total Bed available in TC", "fontSize": 21, "offset": -28},
   "data": {"values": [{"v": 22088}]},
   "mark": {"type": "text", "fontSize": 58, "fontWeight": 500, "dy": 17, "color": "#252423"},
   "encoding": {"text": {"field": "v", "type": "quantitative", "format": "d"}}},
  {"width": 330, "height": 129, "view": {"fill": "#F2CCD2", "stroke": "#3A3A3A", "strokeWidth": 1.5, "cornerRadius": 12},
   "title": {"text": "Total ICU Beds available in TC", "fontSize": 21, "offset": -28},
   "data": {"values": [{"v": 1054}]},
   "mark": {"type": "text", "fontSize": 58, "fontWeight": 500, "dy": 17, "color": "#252423"},
   "encoding": {"text": {"field": "v", "type": "quantitative", "format": "d"}}},
  {"width": 322, "height": 129, "view": {"fill": "#F2BADC", "stroke": "#3A3A3A", "strokeWidth": 1.5, "cornerRadius": 12},
   "title": {"text": ["Total Mechanical Ventilator", "available in TC"], "fontSize": 21, "offset": -51, "lineHeight": 23},
   "data": {"values": [{"v": 524}]},
   "mark": {"type": "text", "fontSize": 58, "fontWeight": 500, "dy": 34, "color": "#252423"},
   "encoding": {"text": {"field": "v", "type": "quantitative", "format": "d"}}},
  {"width": 381, "height": 129, "view": {"fill": "#E8D0E6", "stroke": "#3A3A3A", "strokeWidth": 1.5, "cornerRadius": 12},
   "title": {"text": ["Total Oxygen Cocentrators available", "in TC"], "fontSize": 21, "offset": -51, "lineHeight": 23},
   "data": {"values": [{"v": 1582}]},
   "mark": {"type": "text", "fontSize": 58, "fontWeight": 500, "dy": 34, "color": "#252423"},
   "encoding": {"text": {"field": "v", "type": "quantitative", "format": "d"}}}
 ], "spacing": 22},
{"hconcat": [
  {"width": 455, "height": 231,
   "view": {"fill": "#D5E4F8", "stroke": "#3A3A3A", "strokeWidth": 1.5, "cornerRadius": 12},
   "title": {"text": "Total Bed available in TC by Status", "fontSize": 21, "offset": -30},
   "data": {"name": "bed"},
   "encoding": {
     "theta": {"field": "v", "type": "quantitative", "stack": true},
     "order": {"field": "k", "type": "quantitative"},
     "x": {"datum": "c", "type": "nominal", "scale": {"type": "point", "align": 0.5}, "axis": null},
     "y": {"datum": "c", "type": "nominal", "scale": {"type": "point", "align": 0.62}, "axis": null},
     "color": {"field": "s", "type": "nominal", "scale": {"domain": ["Capacity", "Available", "Occupied"], "range": ["#118DFF", "#12239E", "#E66C37"]},
               "legend": {"title": "Capacity", "orient": "none", "direction": "horizontal", "titleOrient": "left", "legendX": 40, "legendY": 42, "titleFontSize": 17, "labelFontSize": 17, "symbolSize": 80, "columnPadding": 5, "titlePadding": 7, "labelOffset": 2}}
   },
   "layer": [
     {"mark": {"type": "arc", "outerRadius": 64, "innerRadius": 23}},
     {"mark": {"type": "text", "radius": 109, "fontSize": 12}, "encoding": {"text": {"condition": {"test": "datum.s != 'Occupied'", "field": "v", "type": "quantitative", "format": ".2~%"}, "value": ""}, "color": {"value": "#605E5C"}, "detail": {"field": "s"}}},
     {"mark": {"type": "text", "radius": 72, "fontSize": 12, "align": "right", "dx": -24}, "encoding": {"text": {"condition": {"test": "datum.s == 'Occupied' && datum.v >= 0.05", "field": "v", "type": "quantitative", "format": ".2~%"}, "value": ""}, "color": {"value": "#605E5C"}, "detail": {"field": "s"}}}
   ]
  },
  {"width": 441, "height": 231,
   "view": {"fill": "#E6CFE6", "stroke": "#3A3A3A", "strokeWidth": 1.5, "cornerRadius": 12},
   "title": {"text": "Total ICU Beds available in TC by Status", "fontSize": 21, "offset": -30},
   "data": {"name": "icu"},
   "encoding": {
     "theta": {"field": "v", "type": "quantitative", "stack": true},
     "order": {"field": "k", "type": "quantitative"},
     "x": {"datum": "c", "type": "nominal", "scale": {"type": "point", "align": 0.5}, "axis": null},
     "y": {"datum": "c", "type": "nominal", "scale": {"type": "point", "align": 0.62}, "axis": null},
     "color": {"field": "s", "type": "nominal", "scale": {"domain": ["Capacity", "Available", "Occupied"], "range": ["#118DFF", "#12239E", "#E66C37"]},
               "legend": {"title": "Capacity", "orient": "none", "direction": "horizontal", "titleOrient": "left", "legendX": 34, "legendY": 42, "titleFontSize": 17, "labelFontSize": 17, "symbolSize": 80, "columnPadding": 5, "titlePadding": 7, "labelOffset": 2}}
   },
   "layer": [
     {"mark": {"type": "arc", "outerRadius": 65, "innerRadius": 22}},
     {"mark": {"type": "text", "radius": 110, "fontSize": 12}, "encoding": {"text": {"condition": {"test": "datum.s != 'Occupied'", "field": "v", "type": "quantitative", "format": ".2~%"}, "value": ""}, "color": {"value": "#605E5C"}, "detail": {"field": "s"}}},
     {"mark": {"type": "text", "radius": 72, "fontSize": 12, "align": "right", "dx": -24}, "encoding": {"text": {"condition": {"test": "datum.s == 'Occupied' && datum.v >= 0.05", "field": "v", "type": "quantitative", "format": ".2~%"}, "value": ""}, "color": {"value": "#605E5C"}, "detail": {"field": "s"}}}
   ]
  },
  {"width": 494, "height": 231,
   "view": {"fill": "#DCB8DA", "stroke": "#3A3A3A", "strokeWidth": 1.5, "cornerRadius": 12},
   "title": {"text": ["Total Mechanical Ventilators available in TC by", "Status"], "fontSize": 21, "offset": -52, "lineHeight": 22},
   "data": {"name": "mech"},
   "encoding": {
     "theta": {"field": "v", "type": "quantitative", "stack": true},
     "order": {"field": "k", "type": "quantitative"},
     "x": {"datum": "c", "type": "nominal", "scale": {"type": "point", "align": 0.5}, "axis": null},
     "y": {"datum": "c", "type": "nominal", "scale": {"type": "point", "align": 0.671}, "axis": null},
     "color": {"field": "s", "type": "nominal", "scale": {"domain": ["Capacity", "Available", "Occupied"], "range": ["#118DFF", "#12239E", "#E66C37"]},
               "legend": {"title": "Capacity", "orient": "none", "direction": "horizontal", "titleOrient": "left", "legendX": 63, "legendY": 64, "titleFontSize": 17, "labelFontSize": 17, "symbolSize": 80, "columnPadding": 5, "titlePadding": 7, "labelOffset": 2}}
   },
   "layer": [
     {"mark": {"type": "arc", "outerRadius": 56, "innerRadius": 20}},
     {"mark": {"type": "text", "radius": 101, "fontSize": 12}, "encoding": {"text": {"condition": {"test": "datum.s != 'Occupied'", "field": "v", "type": "quantitative", "format": ".2~%"}, "value": ""}, "color": {"value": "#605E5C"}, "detail": {"field": "s"}}},
     {"mark": {"type": "text", "radius": 66, "fontSize": 12, "align": "right", "dx": -24}, "encoding": {"text": {"condition": {"test": "datum.s == 'Occupied' && datum.v >= 0.05", "field": "v", "type": "quantitative", "format": ".2~%"}, "value": ""}, "color": {"value": "#605E5C"}, "detail": {"field": "s"}}}
   ]
  }
 ], "spacing": 20, "resolve": {"scale": {"color": "independent", "theta": "independent"}, "legend": {"color": "independent"}}},
{"hconcat": [
  {"width": 490, "height": 226,
   "view": {"fill": "#DCB8DA", "stroke": "#3A3A3A", "strokeWidth": 1.5, "cornerRadius": 12},
   "title": {"text": ["Total Oxygen Cocentrators available in TC by", "Status"], "fontSize": 21, "offset": -52, "lineHeight": 22},
   "data": {"name": "oxy"},
   "encoding": {
     "theta": {"field": "v", "type": "quantitative", "stack": true},
     "order": {"field": "k", "type": "quantitative"},
     "x": {"datum": "c", "type": "nominal", "scale": {"type": "point", "align": 0.5}, "axis": null},
     "y": {"datum": "c", "type": "nominal", "scale": {"type": "point", "align": 0.668}, "axis": null},
     "color": {"field": "s", "type": "nominal", "scale": {"domain": ["Capacity", "Available", "Occupied"], "range": ["#118DFF", "#12239E", "#E66C37"]},
               "legend": {"title": "Capacity", "orient": "none", "direction": "horizontal", "titleOrient": "left", "legendX": 61, "legendY": 63, "titleFontSize": 17, "labelFontSize": 17, "symbolSize": 80, "columnPadding": 5, "titlePadding": 7, "labelOffset": 2}}
   },
   "layer": [
     {"mark": {"type": "arc", "outerRadius": 54, "innerRadius": 0}},
     {"mark": {"type": "text", "radius": 99, "fontSize": 12}, "encoding": {"text": {"condition": {"test": "datum.s != 'Occupied'", "field": "v", "type": "quantitative", "format": ".2~%"}, "value": ""}, "color": {"value": "#605E5C"}, "detail": {"field": "s"}}},
     {"mark": {"type": "text", "radius": 64, "fontSize": 12, "align": "right", "dx": -24}, "encoding": {"text": {"condition": {"test": "datum.s == 'Occupied' && datum.v >= 0.05", "field": "v", "type": "quantitative", "format": ".2~%"}, "value": ""}, "color": {"value": "#605E5C"}, "detail": {"field": "s"}}}
   ]
  },
  {"width": 491, "height": 226,
   "view": {"fill": "#DCB8DA", "stroke": "#3A3A3A", "strokeWidth": 1.5, "cornerRadius": 12},
   "title": {"text": "# of Patient Monitoring available in TC by Status", "fontSize": 21, "offset": -30},
   "data": {"name": "pm"},
   "encoding": {
     "theta": {"field": "v", "type": "quantitative", "stack": true},
     "order": {"field": "k", "type": "quantitative"},
     "x": {"datum": "c", "type": "nominal", "scale": {"type": "point", "align": 0.5}, "axis": null},
     "y": {"datum": "c", "type": "nominal", "scale": {"type": "point", "align": 0.62}, "axis": null},
     "color": {"field": "s", "type": "nominal", "scale": {"domain": ["Capacity", "Available", "Occupied"], "range": ["#118DFF", "#12239E", "#E66C37"]},
               "legend": {"title": "Capacity", "orient": "none", "direction": "horizontal", "titleOrient": "left", "legendX": 62, "legendY": 41, "titleFontSize": 17, "labelFontSize": 17, "symbolSize": 80, "columnPadding": 5, "titlePadding": 7, "labelOffset": 2}}
   },
   "layer": [
     {"mark": {"type": "arc", "outerRadius": 62, "innerRadius": 0}},
     {"mark": {"type": "text", "radius": 107, "fontSize": 12}, "encoding": {"text": {"condition": {"test": "datum.s != 'Occupied'", "field": "v", "type": "quantitative", "format": ".2~%"}, "value": ""}, "color": {"value": "#605E5C"}, "detail": {"field": "s"}}},
     {"mark": {"type": "text", "radius": 70, "fontSize": 12, "align": "right", "dx": -24}, "encoding": {"text": {"condition": {"test": "datum.s == 'Occupied' && datum.v >= 0.05", "field": "v", "type": "quantitative", "format": ".2~%"}, "value": ""}, "color": {"value": "#605E5C"}, "detail": {"field": "s"}}}
   ]
  },
  {"vconcat": [
    {"width": 415, "height": 100, "view": {"fill": "#E8D0E6", "stroke": "#3A3A3A", "strokeWidth": 1.5, "cornerRadius": 12},
     "title": {"text": "# of Oxygen Ready to Service in TC", "fontSize": 21, "offset": -29},
     "data": {"values": [{"v": 5534}]},
     "mark": {"type": "text", "fontSize": 54, "fontWeight": 500, "dy": 18, "color": "#252423"},
     "encoding": {"text": {"field": "v", "type": "quantitative", "format": "d"}}},
    {"width": 415, "height": 112, "view": {"fill": "#E8D0E6", "stroke": "#3A3A3A", "strokeWidth": 1.5, "cornerRadius": 12},
     "title": {"text": "# of Patients Monitoring available in TC", "fontSize": 21, "offset": -27},
     "data": {"values": [{"v": 408}]},
     "mark": {"type": "text", "fontSize": 54, "fontWeight": 500, "dy": 16, "color": "#252423"},
     "encoding": {"text": {"field": "v", "type": "quantitative", "format": "d"}}}
  ], "spacing": 14}
 ], "spacing": 17, "resolve": {"scale": {"color": "independent", "theta": "independent"}, "legend": {"color": "independent"}}}
]
}
